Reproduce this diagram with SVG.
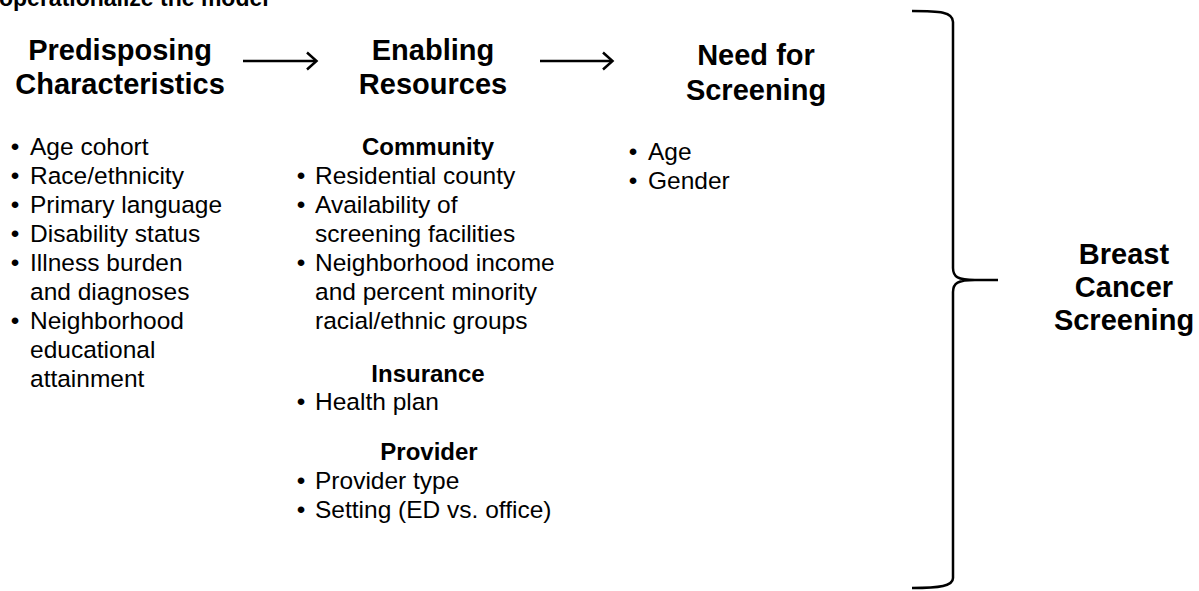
<svg xmlns="http://www.w3.org/2000/svg" width="1199" height="591" viewBox="0 0 1199 591">
<style>
text{font-family:"Liberation Sans",Arial,sans-serif;fill:#000}
.h{font-size:29px;font-weight:bold;text-anchor:middle}
.s{font-size:24px;font-weight:bold;text-anchor:middle}
.b{font-size:24.5px}
.d{font-size:24.5px;text-anchor:middle}
.t{font-size:23px;font-weight:bold}
.c{fill:none;stroke:#000;stroke-width:2.5}
</style>
<defs>
<marker id="ah" viewBox="0 0 10 10" refX="9" refY="5" markerWidth="10" markerHeight="10" markerUnits="userSpaceOnUse" orient="auto" overflow="visible">
<path d="M0,-3.5 L9.5,5 L0,13.5" fill="none" stroke="#000" stroke-width="2.5"/>
</marker>
</defs>
<rect width="1199" height="591" fill="#fff"/>
<text class="t" x="-1" y="6">operationalize the model</text>
<g id="predisposing">
<text class="h" x="120" y="60">Predisposing</text>
<text class="h" x="120" y="94">Characteristics</text>
<g class="d">
<text x="15" y="155">•</text>
<text x="15" y="184">•</text>
<text x="15" y="213">•</text>
<text x="15" y="242">•</text>
<text x="15" y="271">•</text>
<text x="15" y="329">•</text>
</g>
<g class="b">
<text x="30" y="155">Age cohort</text>
<text x="30" y="184">Race/ethnicity</text>
<text x="30" y="213">Primary language</text>
<text x="30" y="242">Disability status</text>
<text x="30" y="271">Illness burden</text>
<text x="30" y="300">and diagnoses</text>
<text x="30" y="329">Neighborhood</text>
<text x="30" y="358">educational</text>
<text x="30" y="387">attainment</text>
</g>
</g>
<g id="enabling">
<text class="h" x="433" y="60">Enabling</text>
<text class="h" x="433" y="94">Resources</text>
<text class="s" x="428" y="155">Community</text>
<g class="d">
<text x="301" y="184">•</text>
<text x="301" y="213">•</text>
<text x="301" y="271">•</text>
<text x="301" y="410">•</text>
<text x="301" y="489">•</text>
<text x="301" y="518">•</text>
</g>
<g class="b">
<text x="315" y="184">Residential county</text>
<text x="315" y="213">Availability of</text>
<text x="315" y="242">screening facilities</text>
<text x="315" y="271">Neighborhood income</text>
<text x="315" y="300">and percent minority</text>
<text x="315" y="329">racial/ethnic groups</text>
</g>
<text class="s" x="428" y="382">Insurance</text>
<text class="b" x="315" y="410">Health plan</text>
<text class="s" x="429" y="460">Provider</text>
<g class="b">
<text x="315" y="489">Provider type</text>
<text x="315" y="518">Setting (ED vs. office)</text>
</g>
</g>
<g id="need">
<text class="h" x="756" y="65">Need for</text>
<text class="h" x="756" y="100">Screening</text>
<g class="d">
<text x="633" y="160">•</text>
<text x="633" y="189">•</text>
</g>
<g class="b">
<text x="648" y="160">Age</text>
<text x="648" y="189">Gender</text>
</g>
</g>
<g id="outcome">
<text class="h" x="1124" y="264">Breast</text>
<text class="h" x="1124" y="297">Cancer</text>
<text class="h" x="1124" y="330">Screening</text>
</g>
<g id="connectors">
<path class="c" d="M243,61 H316" marker-end="url(#ah)"/>
<path class="c" d="M540,61 H612" marker-end="url(#ah)"/>
<path class="c" d="M912,11 C940,11 953,12 953,22 L953,268 C953,277 958,280 975,280 L998,280 M975,280 C958,280 953,283 953,292 L953,578 C953,586 940,588 912,588"/>
</g>
</svg>
